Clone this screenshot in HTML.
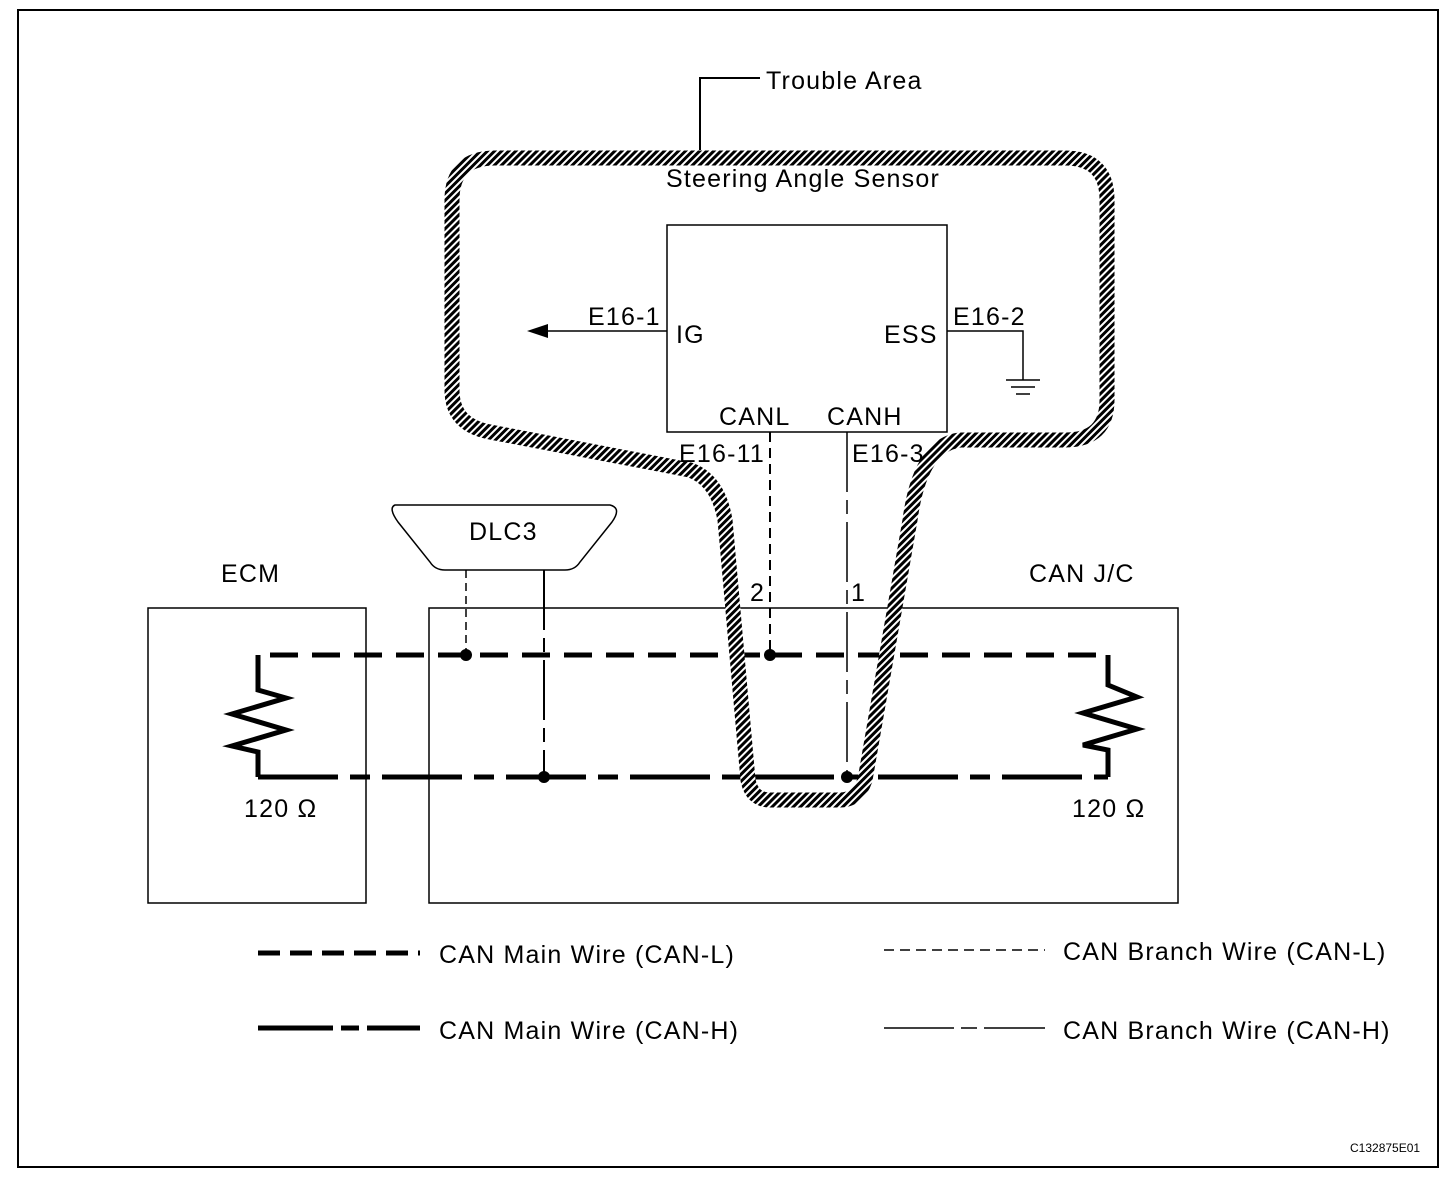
<!DOCTYPE html>
<html><head><style>body{margin:0;background:#fff}svg{display:block}text{font-family:"Liberation Sans",sans-serif;fill:#000}</style></head><body>
<svg width="1456" height="1178" viewBox="0 0 1456 1178">
<defs><pattern id="h" width="5" height="5" patternUnits="userSpaceOnUse" patternTransform="rotate(45)"><rect width="5" height="5" fill="#fff"/><rect width="3" height="5" fill="#000"/></pattern></defs>
<rect x="18" y="10" width="1420" height="1157" fill="none" stroke="#000" stroke-width="2"/>
<rect x="148" y="608" width="218" height="295" fill="none" stroke="#000" stroke-width="1.5"/>
<rect x="429" y="608" width="749" height="295" fill="none" stroke="#000" stroke-width="1.5"/>
<rect x="667" y="225" width="280" height="207" fill="none" stroke="#000" stroke-width="1.5"/>
<g fill="none" stroke="#000">
<path d="M258,685 V655 H1108 V685" stroke-width="5" stroke-dasharray="28,14"/>
<polyline points="258,655 258,690 286,698 232,714 286,730 232,746 258,752 258,777" stroke-width="5"/>
<polyline points="1108,655 1108,685 1137,697 1083,713 1137,729 1083,745 1108,750 1108,777" stroke-width="5"/>
<path d="M258,777 H1108" stroke-width="5" stroke-dasharray="80,12,20,12"/>
<path d="M466,570 V655" stroke-width="1.5" stroke-dasharray="8,5"/>
<path d="M544,570 V777" stroke-width="2" stroke-dasharray="60,8,14,8"/>
<path d="M770,432 V655" stroke-width="2" stroke-dasharray="10,6"/>
<path d="M847,432 V777" stroke-width="1.5" stroke-dasharray="60,8,14,8"/>
<path d="M667,331 H545" stroke-width="1.5"/>
<path d="M947,331 H1023 V380" stroke-width="1.5"/>
<path d="M1006,380 H1040 M1011,387 H1035 M1016,394 H1030" stroke-width="1.5"/>
<path d="M700,150 V78 H760" stroke-width="2"/>
<path d="M452,200 Q452,158 495,158 L1065,158 Q1107,158 1107,200 L1107,400 Q1107,440 1065,440 L960,440 Q920,445 910,520 L865,780 Q858,800 840,800 L770,800 Q752,800 748,780 L725,520 Q718,480 690,470 L490,432 Q452,425 452,390 Z" stroke="url(#h)" stroke-width="15" stroke-linejoin="round"/>
<path d="M395,505 H610 Q622,508 612,522 L580,562 Q575,570 565,570 H445 Q435,570 430,562 L398,522 Q388,508 395,505 Z" stroke-width="1.5"/>
<path d="M258,953 H420" stroke-width="5" stroke-dasharray="22,10"/>
<path d="M258,1028 H420" stroke-width="5" stroke-dasharray="75,8,18,8"/>
<path d="M884,950 H1045" stroke-width="1.5" stroke-dasharray="10,6"/>
<path d="M884,1028 H1045" stroke-width="1.5" stroke-dasharray="70,7,16,7"/>
</g>
<polygon points="527,331 548,324 548,338" fill="#000"/>
<g fill="#000"><circle cx="466" cy="655" r="6"/><circle cx="770" cy="655" r="6"/><circle cx="544" cy="777" r="6"/><circle cx="847" cy="777" r="6"/></g>
<g font-size="25" letter-spacing="1.2">
<text x="766" y="89">Trouble Area</text>
<text x="666" y="187">Steering Angle Sensor</text>
<text x="588" y="325">E16-1</text><text x="676" y="343">IG</text>
<text x="884" y="343">ESS</text><text x="953" y="325">E16-2</text>
<text x="719" y="425">CANL</text><text x="827" y="425">CANH</text>
<text x="679" y="462">E16-11</text><text x="852" y="462">E16-3</text>
<text x="469" y="540">DLC3</text>
<text x="221" y="582">ECM</text><text x="1029" y="582">CAN J/C</text>
<text x="750" y="601">2</text><text x="851" y="601">1</text>
<text x="244" y="817">120 Ω</text><text x="1072" y="817">120 Ω</text>
<text x="439" y="963">CAN Main Wire (CAN-L)</text>
<text x="439" y="1039">CAN Main Wire (CAN-H)</text>
<text x="1063" y="960">CAN Branch Wire (CAN-L)</text>
<text x="1063" y="1039">CAN Branch Wire (CAN-H)</text>
</g>
<text x="1350" y="1152" font-size="12">C132875E01</text>
</svg>
</body></html>
